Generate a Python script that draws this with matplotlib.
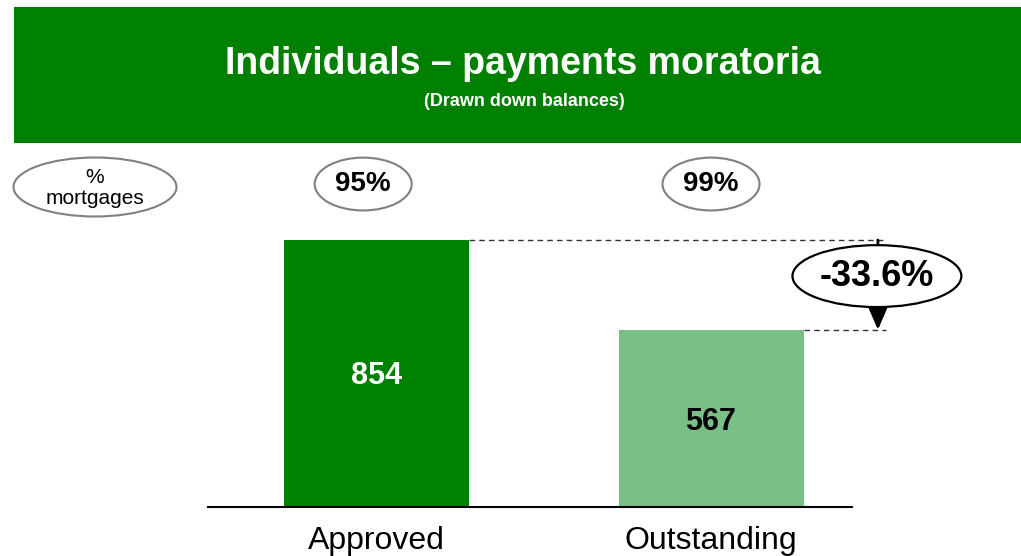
import matplotlib.pyplot as plt
from matplotlib.patches import Ellipse, Rectangle

plt.rcParams["font.family"] = ["Liberation Sans", "DejaVu Sans"]

# data
categories = ["Approved", "Outstanding"]
balances = [854, 567]
mortgage_share = ["95%", "99%"]
change_label = "-33.6%"

dark_green = "#008000"
light_green = "#7abf86"

W, H = 1021, 556
fig = plt.figure(figsize=(W / 100, H / 100), dpi=100)

# pixel overlay for the banner and the left legend bubble
bg = fig.add_axes([0, 0, 1, 1], zorder=0)
bg.set_xlim(0, W)
bg.set_ylim(H, 0)
bg.axis("off")
bg.add_patch(Rectangle((14, 7), W - 14, 136, color=dark_green, lw=0))
bg.text(523, 64, "Individuals \u2013 payments moratoria", color="white",
        fontsize=27, fontweight="bold", ha="center", va="center")
bg.text(524, 101, "(Drawn down balances)", color="white",
        fontsize=13, fontweight="bold", ha="center", va="center")
bg.add_patch(Ellipse((95, 187), 163, 59, fc="white", ec="#808080", lw=1.5))
bg.text(95, 188, "%\nmortgages", fontsize=15, ha="center", va="center",
        linespacing=1.1)

# bar axes: baseline at y=507 px, 1000 units = 312.6 px
ax_h = 267 * 1000 / 854
ax = fig.add_axes([208 / W, (H - 507) / H, (852 - 208) / W, ax_h / H], zorder=1)
ax.patch.set_alpha(0)
ax.set_ylim(0, 1000)
ax.set_xlim(-0.504, 1.4215)

x = list(range(len(categories)))
ax.bar(x, balances, width=0.553, color=[dark_green, light_green], zorder=2)

ax.text(x[0], balances[0] * 0.49, str(balances[0]), color="white",
        fontsize=22, fontweight="bold", ha="center", va="center")
ax.text(x[1], balances[1] * 0.48, str(balances[1]), color="black",
        fontsize=22, fontweight="bold", ha="center", va="center")

# share bubbles above bars
for xi, s in zip(x, mortgage_share):
    ax.add_patch(Ellipse((xi - 0.04 + 0.04 * xi, 1033), 0.29, 169, fc="white",
                         ec="#808080", lw=1.5, clip_on=False, zorder=3))
    ax.text(xi - 0.04 + 0.04 * xi, 1033, s, fontsize=20, fontweight="bold",
            ha="center", va="center", zorder=4, clip_on=False)

# dashed guides and change arrow
x_end = 1.523
x_arrow = 1.499
for xi, v in zip(x, balances):
    ax.plot([xi + 0.553 / 2, x_end], [v, v], ls=(0, (4, 3)), color="#333333",
            lw=1, clip_on=False, zorder=2)
ax.annotate("", xy=(x_arrow, balances[1]), xytext=(x_arrow, balances[0]),
            arrowprops=dict(arrowstyle="-|>,head_width=0.65,head_length=1.5",
                            color="black", lw=2, shrinkA=0, shrinkB=0),
            annotation_clip=False, zorder=3)
mid = (balances[0] + balances[1]) / 2 + 28
ax.add_patch(Ellipse((x_arrow - 0.003, mid), 0.505, 198, fc="white", ec="black",
                     lw=1.6, clip_on=False, zorder=4))
ax.text(x_arrow - 0.003, mid, change_label, fontsize=26, fontweight="bold",
        ha="center", va="center", zorder=5, clip_on=False)

for side in ["top", "right", "left"]:
    ax.spines[side].set_visible(False)
ax.spines["bottom"].set_linewidth(1.5)
ax.set_yticks([])
ax.set_xticks(x)
ax.set_xticklabels(categories, fontsize=23)
ax.tick_params(axis="x", length=0, pad=14)

fig.savefig("out.png", dpi=100)
